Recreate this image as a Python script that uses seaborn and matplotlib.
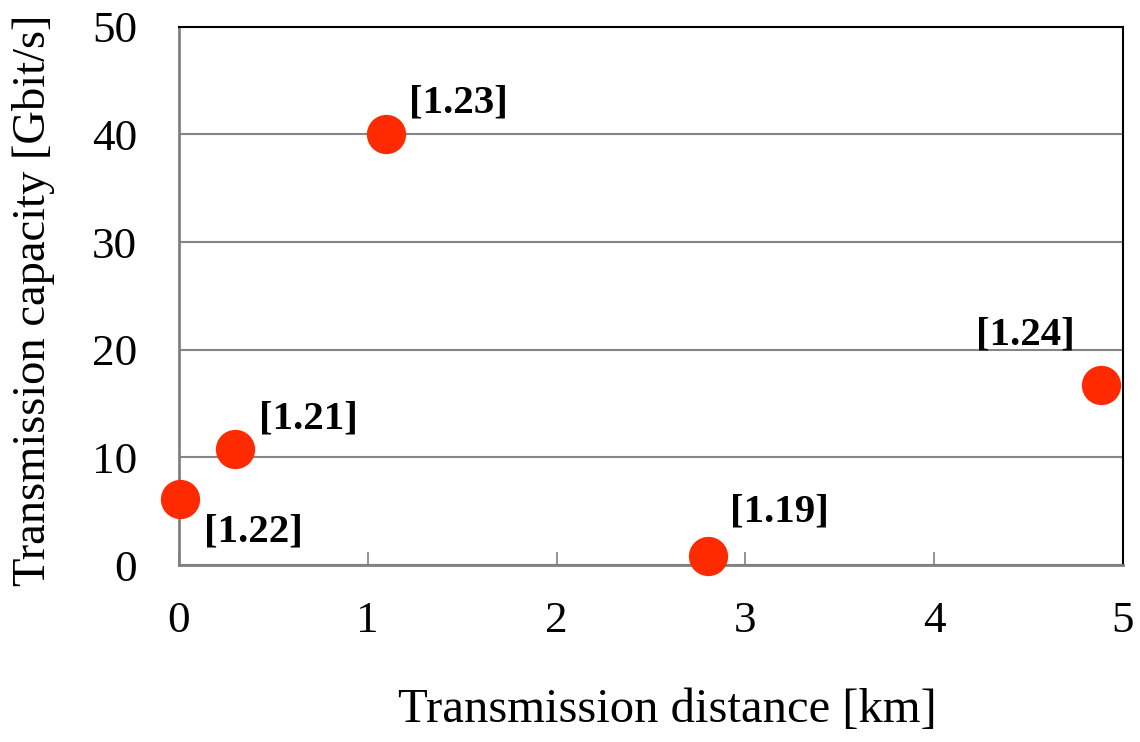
import matplotlib
matplotlib.use("Agg")
import matplotlib.pyplot as plt
import seaborn as sns
import pandas as pd

# Data
distance_km = [0.005, 0.297, 1.096, 2.80, 4.886]
capacity_gbps = [6.1, 10.74, 40.0, 0.86, 16.74]
refs = ["[1.22]", "[1.21]", "[1.23]", "[1.19]", "[1.24]"]
x_ticks = [0, 1, 2, 3, 4, 5]
y_ticks = [0, 10, 20, 30, 40, 50]

sns.set_theme(style="white")
plt.rcParams['font.family'] = ['Liberation Serif', 'DejaVu Serif']
plt.rcParams['text.color'] = 'black'
plt.rcParams['axes.labelcolor'] = 'black'

df = pd.DataFrame({"distance": distance_km, "capacity": capacity_gbps, "ref": refs})

fig = plt.figure(figsize=(11.4, 7.42), dpi=100)
ax = fig.add_axes([0.157, 0.2385, 0.828, 0.7255])

ax.set_xlim(0, 5)
ax.set_ylim(0, 50)
ax.set_yticks(y_ticks)
ax.set_xticks(x_ticks)
ax.yaxis.grid(True, color="#868686", linewidth=1.5)
ax.xaxis.grid(False)
ax.set_axisbelow(True)

sns.scatterplot(data=df, x="distance", y="capacity", ax=ax, s=800,
                color="#ff2a00", linewidth=0, zorder=3, clip_on=False, legend=False)

for sp in ["left", "bottom"]:
    ax.spines[sp].set_color("#808080")
    ax.spines[sp].set_linewidth(2)
for sp in ["top", "right"]:
    ax.spines[sp].set_color("#000000")
    ax.spines[sp].set_linewidth(1.5)

ax.tick_params(axis="x", bottom=True, direction="in", length=9.5, width=1.2,
               color="#808080", labelcolor="black", labelsize=32.5, pad=26)
ax.tick_params(axis="y", left=False, length=0, labelsize=32.5, pad=30, labelcolor="black")

ax.set_xlabel("Transmission distance [km]", fontsize=35, color="black")
ax.set_ylabel("Transmission capacity [Gbit/s]", fontsize=33.5, color="black")
ax.xaxis.set_label_coords(0.517, -0.228)
ax.yaxis.set_label_coords(-0.131, 0.492)

# label offsets in pixels (dx, dy, ha, va)
offsets = {
    "[1.22]": (24, -14, "left", "top"),
    "[1.21]": (24, 12, "left", "bottom"),
    "[1.23]": (23, 13, "left", "bottom"),
    "[1.19]": (22, 25, "left", "bottom"),
    "[1.24]": (-27, 31, "right", "bottom"),
}
for xv, yv, r in zip(distance_km, capacity_gbps, refs):
    dx, dy, ha, va = offsets[r]
    ax.annotate(r, (xv, yv), xytext=(dx, dy), textcoords="offset pixels",
                ha=ha, va=va, fontsize=29.5, fontweight="bold", color="black",
                annotation_clip=False)

fig.savefig("out.png", dpi=100)
